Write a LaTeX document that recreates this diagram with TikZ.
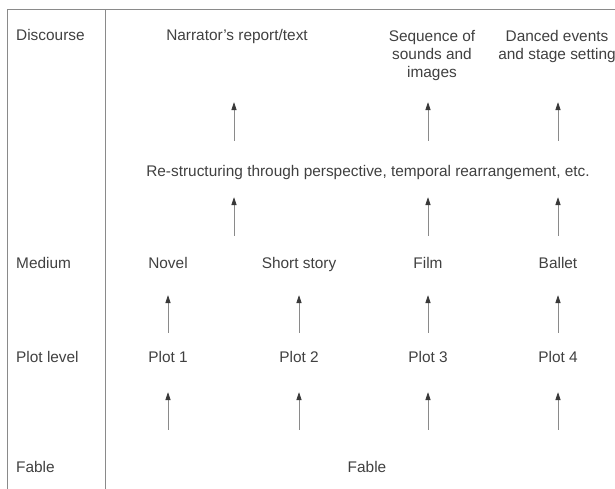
\documentclass[tikz,border=0pt]{standalone}
\usepackage{fontspec}
\setmainfont{Liberation Sans}
\usetikzlibrary{arrows.meta}
\definecolor{txtgray}{HTML}{404040}
\definecolor{linegray}{HTML}{8A8A8A}
\definecolor{headgray}{HTML}{383838}
\tikzset{
  lbl/.style={inner sep=0pt, text height=11pt, text depth=3pt, text=txtgray,
    font=\fontsize{15.4}{18}\selectfont},
  mlbl/.style={inner sep=0pt, align=center, text=txtgray, anchor=north,
    font=\fontsize{15.4}{18}\selectfont},
  framel/.style={draw=linegray, line width=0.9pt, line cap=rect},
  arr/.style={draw=linegray, line width=0.8pt,
    -{Triangle[length=8pt,width=5.2pt,color=headgray]}}
}
\begin{document}
\begin{tikzpicture}[x=1pt,y=-1pt]
\useasboundingbox (0,0) rectangle (615,489);
% frame
\draw[framel] (615,9.5) -- (7,9.5) -- (7,489);
\draw[framel] (105.5,9.5) -- (105.5,489);
% column coordinate for first restructuring arrow
\coordinate (colA) at (234,0);
% row labels
\node[lbl, anchor=base west] (ldisc) at (16,41) {Discourse};
\node[lbl, anchor=base west] (lmed) at (16,268) {Medium};
\node[lbl, anchor=base west] (lplot) at (16,362) {Plot level};
\node[lbl, anchor=base west] (lfab) at (16,472) {Fable};
% discourse row
\node[lbl, anchor=base] (narr) at (237,41) {Narrator's report/text};
\node[mlbl] (seq) at (432,30) {Sequence of\\sounds and\\images};
\node[mlbl] (dance) at (557,30) {Danced events\\and stage setting};
% restructuring
\node[lbl, anchor=base] (restr) at (368,177) {Re-structuring through perspective, temporal rearrangement, etc.};
% medium row
\node[lbl, anchor=base] (novel) at (168,268) {Novel};
\node[lbl, anchor=base] (short) at (299,268) {Short story};
\node[lbl, anchor=base] (film) at (428,268) {Film};
\node[lbl, anchor=base] (ballet) at (558,268) {Ballet};
% plot row
\node[lbl, anchor=base] (p1) at (168,362) {Plot 1};
\node[lbl, anchor=base] (p2) at (299,362) {Plot 2};
\node[lbl, anchor=base] (p3) at (428,362) {Plot 3};
\node[lbl, anchor=base] (p4) at (558,362) {Plot 4};
% fable
\node[lbl, anchor=base] (fable) at (367,472) {Fable};
% arrows fable -> plots
\foreach \p in {p1,p2,p3,p4}
  \draw[arr, shorten <=31pt, shorten >=27pt] (fable.north -| \p) -- (\p.south);
% arrows plots -> media
\draw[arr, shorten <=18pt, shorten >=24pt] (p1.north) -- (novel.south);
\draw[arr, shorten <=18pt, shorten >=24pt] (p2.north) -- (short.south);
\draw[arr, shorten <=18pt, shorten >=24pt] (p3.north) -- (film.south);
\draw[arr, shorten <=18pt, shorten >=24pt] (p4.north) -- (ballet.south);
% arrows media -> restructuring
\draw[arr, shorten <=21pt, shorten >=17pt] (novel.north -| colA) -- (restr.south -| colA);
\draw[arr, shorten <=21pt, shorten >=17pt] (film.north) -- (restr.south -| film);
\draw[arr, shorten <=21pt, shorten >=17pt] (ballet.north) -- (restr.south -| ballet);
% arrows restructuring -> discourse
\draw[arr, shorten <=25pt, shorten >=58pt] (restr.north -| colA) -- (narr.south -| colA);
\draw[arr, shorten <=25pt, shorten >=58pt] (restr.north -| film) -- (narr.south -| film);
\draw[arr, shorten <=25pt, shorten >=58pt] (restr.north -| ballet) -- (narr.south -| ballet);
\end{tikzpicture}
\end{document}
